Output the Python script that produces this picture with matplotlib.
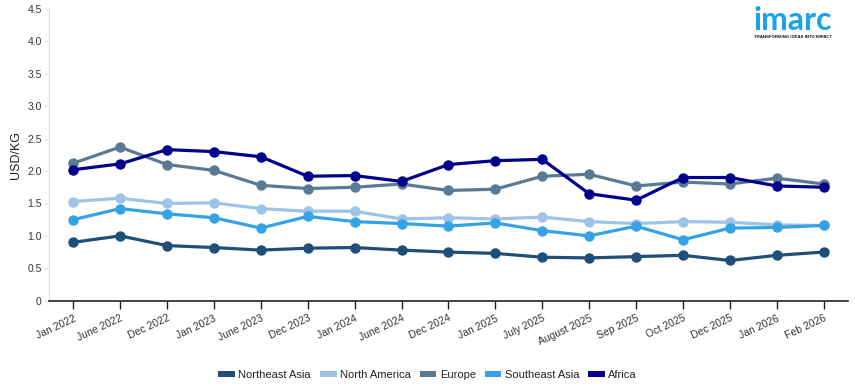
import matplotlib
matplotlib.use("Agg")
import matplotlib.pyplot as plt
from matplotlib.patches import Patch
from matplotlib.ticker import FuncFormatter

plt.rcParams['font.family'] = ['Liberation Sans', 'DejaVu Sans']

months = ["Jan 2022", "June 2022", "Dec 2022", "Jan 2023", "June 2023", "Dec 2023",
          "Jan 2024", "June 2024", "Dec 2024", "Jan 2025", "July 2025", "August 2025",
          "Sep 2025", "Oct 2025", "Dec 2025", "Jan 2026", "Feb 2026"]

northeast_asia = [0.90, 1.00, 0.85, 0.82, 0.78, 0.81, 0.82, 0.78, 0.75, 0.73,
                  0.67, 0.66, 0.68, 0.70, 0.62, 0.70, 0.75]
north_america = [1.53, 1.58, 1.50, 1.51, 1.42, 1.38, 1.38, 1.26, 1.28, 1.26,
                 1.29, 1.22, 1.19, 1.22, 1.21, 1.17, 1.16]
europe = [2.12, 2.37, 2.10, 2.01, 1.78, 1.73, 1.75, 1.80, 1.70, 1.72,
          1.92, 1.95, 1.77, 1.83, 1.80, 1.89, 1.80]
southeast_asia = [1.25, 1.42, 1.34, 1.28, 1.12, 1.30, 1.22, 1.19, 1.15, 1.20,
                  1.08, 1.00, 1.15, 0.94, 1.12, 1.13, 1.16]
africa = [2.02, 2.11, 2.33, 2.30, 2.22, 1.92, 1.93, 1.84, 2.10, 2.16,
          2.18, 1.65, 1.55, 1.90, 1.90, 1.77, 1.75]

series = [
    ("Northeast Asia", northeast_asia, "#1f4e79"),
    ("North America", north_america, "#9dc3e6"),
    ("Europe", europe, "#5a7a94"),
    ("Southeast Asia", southeast_asia, "#36a2e6"),
    ("Africa", africa, "#00008b"),
]

fig = plt.figure(figsize=(8.55, 3.9), dpi=100)
ax = fig.add_axes([0.057, 0.229, 0.935, 0.748])

x = list(range(len(months)))
for name, vals, color in series:
    ax.plot(x, vals, color=color, lw=2.3, marker="o", ms=6.5, label=name)

ax.set_xlim(-0.52, 16.52)
ax.set_ylim(0, 4.5)
ax.set_yticks([0, 0.5, 1.0, 1.5, 2.0, 2.5, 3.0, 3.5, 4.0, 4.5])
ax.yaxis.set_major_formatter(FuncFormatter(lambda v, p: "0" if v == 0 else f"{v:.1f}"))
ax.set_xticks(x)
ax.set_xticklabels(months, rotation=25, ha="right", rotation_mode="anchor", fontsize=7.5,
                   color="#333333")
ax.tick_params(axis="x", length=6, width=1, color="#222222", pad=3)
ax.tick_params(axis="y", length=3, width=0.8, color="#dddddd", labelsize=7.5,
               labelcolor="#333333", pad=2)
ax.set_ylabel("USD/KG", fontsize=9, labelpad=4, color="#222222")

for s in ["top", "right"]:
    ax.spines[s].set_visible(False)
ax.spines["left"].set_color("#dddddd")
ax.spines["bottom"].set_color("#222222")
ax.spines["bottom"].set_linewidth(1.2)

handles = [Patch(facecolor=c, edgecolor="none") for _, _, c in series]
fig.legend(handles, [n for n, _, _ in series], loc="center", bbox_to_anchor=(0.5, 0.038),
           ncol=5, frameon=False, fontsize=8, handlelength=1.5, handleheight=0.45,
           handletextpad=0.3, columnspacing=0.8, labelcolor="#222222")

# logo
fig.text(0.927, 0.922, "imarc", color="#1aa3e8", fontsize=23, fontweight="bold",
         ha="center", va="baseline", family="Lato")
fig.text(0.927, 0.906, "TRANSFORMING IDEAS INTO IMPACT", color="#111111", fontsize=3.2,
         fontweight="bold", ha="center", va="center")

fig.savefig("out.png", dpi=100)
